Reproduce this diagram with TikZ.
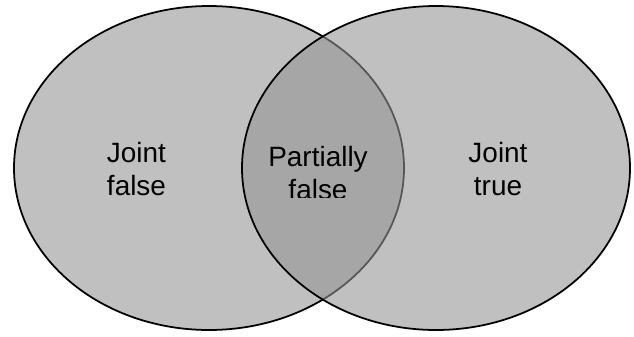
\documentclass[tikz,border=0pt]{standalone}
\usepackage{fontspec}
\setmainfont{Liberation Sans}
\usetikzlibrary{shapes.geometric}

\begin{document}
\begin{tikzpicture}[
      set/.style={ellipse, draw=black, line width=1pt, fill={rgb,255:red,148;green,148;blue,148}, fill opacity=0.59, draw opacity=1, inner sep=0pt, minimum width=7.8cm, minimum height=6.48cm},
      lbl/.style={align=center, text=black, font=\fontsize{15.9}{18.3}\selectfont}
    ]
    \useasboundingbox (0,0) rectangle (12.68,6.72);

    % the two sets, the right one laid over the left
    \node[set] (falseset) at (4.18,3.36) {};
    \node[set, minimum width=7.76cm] (trueset) at (8.72,3.36) {};

    % labels
    \node[lbl] (jointfalse) at (2.73,3.34) {Joint\\false};
    \node[lbl] (jointtrue)  at (9.96,3.34) {Joint\\true};
    \begin{scope}
      \clip (4.8,2.78) rectangle (7.9,4.4);
      \node[lbl] (partial) at (6.36,3.26) {Partially\\false};
    \end{scope}
  \end{tikzpicture}
\end{document}
